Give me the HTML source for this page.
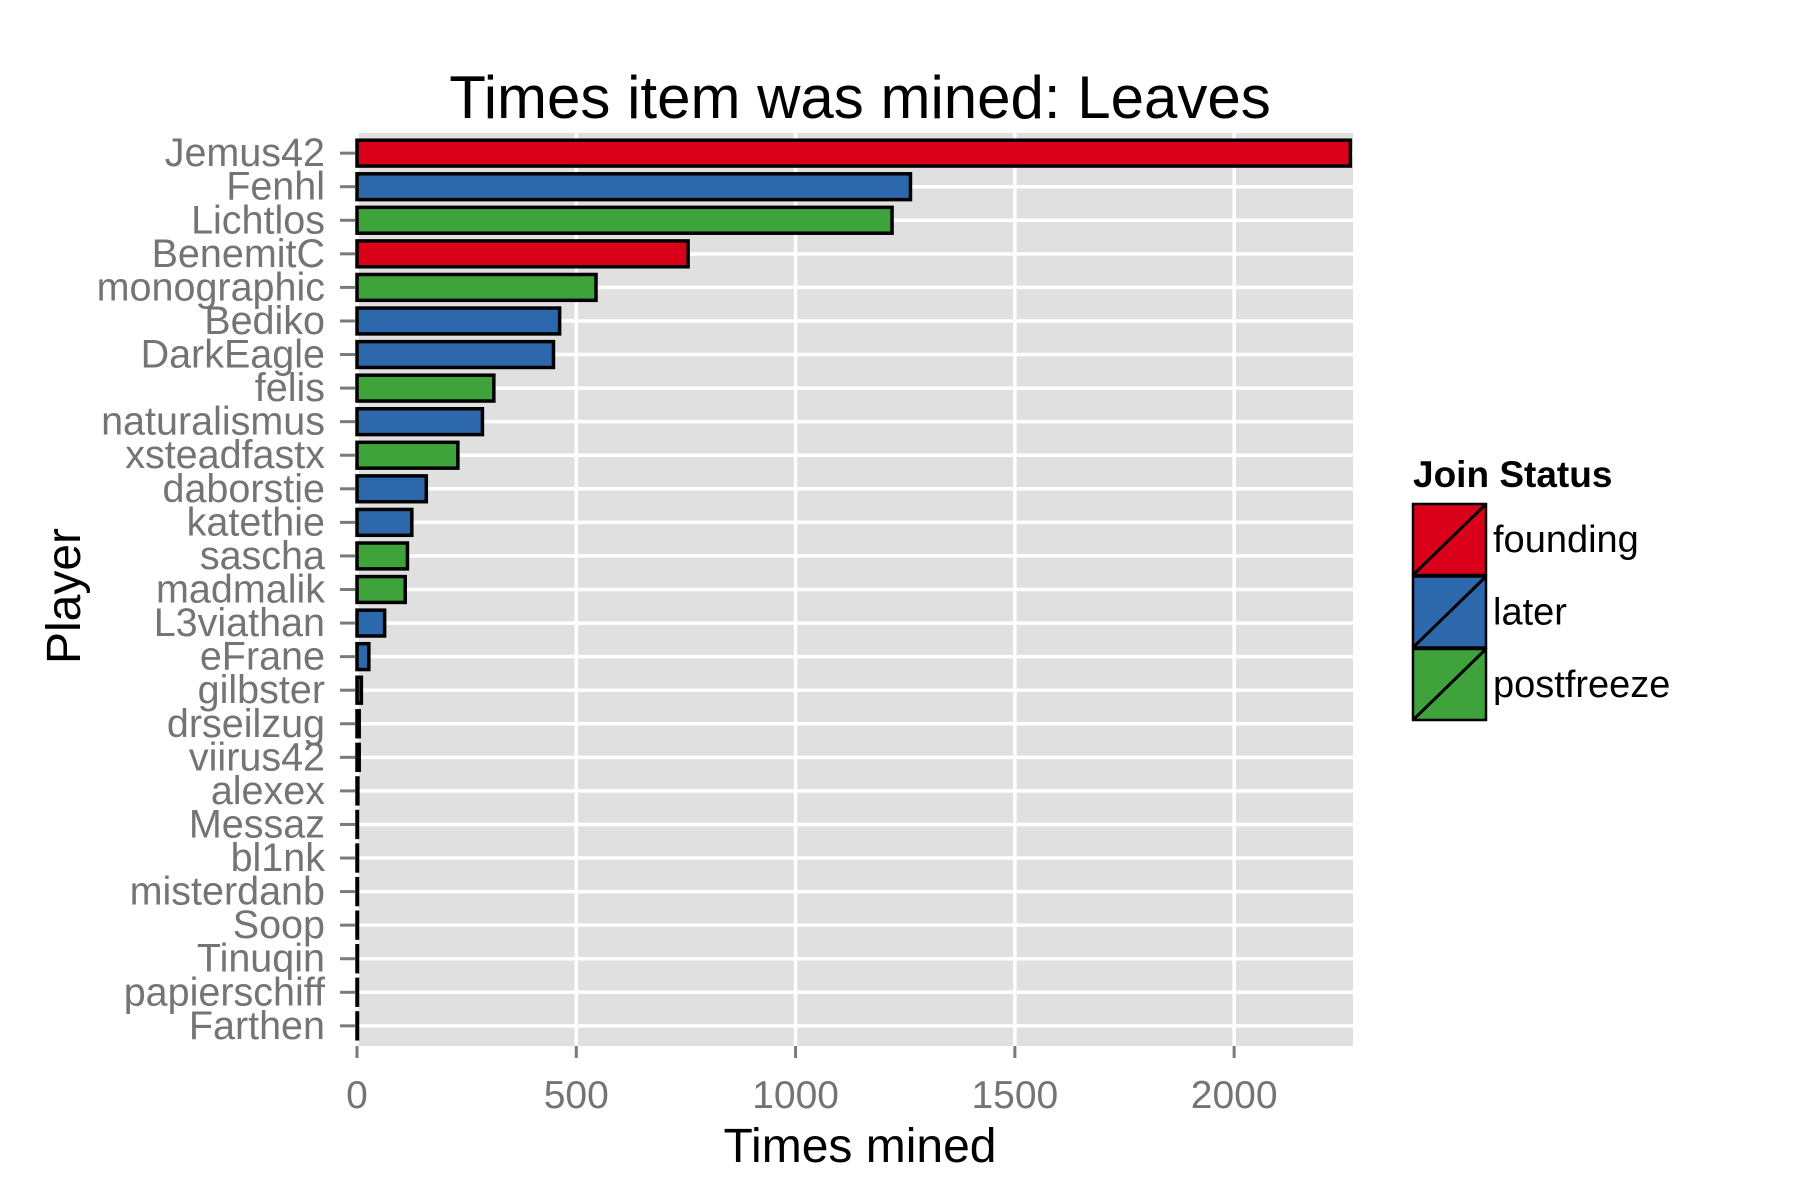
<!DOCTYPE html>
<html><head><meta charset="utf-8"><style>body{margin:0;background:#fff}svg{display:block}</style></head>
<body>
<svg id="chart" width="1800" height="1200" xmlns="http://www.w3.org/2000/svg" font-family="Liberation Sans, Arial, sans-serif"></svg>
<script>
const players = ["Jemus42","Fenhl","Lichtlos","BenemitC","monographic","Bediko","DarkEagle","felis","naturalismus","xsteadfastx","daborstie","katethie","sascha","madmalik","L3viathan","eFrane","gilbster","drseilzug","viirus42","alexex","Messaz","bl1nk","misterdanb","Soop","Tinuqin","papierschiff","Farthen"];
const timesMined = [2265,1262,1220,755,545,462,448,312,286,230,158,125,115,110,63,27,10,5,5,2,1,1,1,1,1,1,1];
const joinStatus = ["founding","later","postfreeze","founding","postfreeze","later","later","postfreeze","later","postfreeze","later","later","postfreeze","postfreeze","later","later","later","later","later","later","later","later","later","later","later","later","later"];
const xTicks = [0,500,1000,1500,2000];
const statuses = ["founding","later","postfreeze"];
const colors = {founding:"#DA001A",later:"#2C68AB",postfreeze:"#3FA33B"};

const svg = document.getElementById('chart');
const NS = "http://www.w3.org/2000/svg";
function mk(tag, attrs, parent){const e=document.createElementNS(NS,tag);for(const k in attrs)e.setAttribute(k,attrs[k]);(parent||svg).appendChild(e);return e;}

const L=357,R=1353,T=133,B=1046;
const xMax=2271;
const x = v => L + v/xMax*(R-L);
const step=(B-T)/(players.length-1+1.2);
const y = i => T + (0.6+i)*step;

const panel=mk('rect',{x:L,y:T,width:R-L,height:B-T,fill:'#E0E0E0'});



xTicks.forEach(t=>{
  const g=mk('line',{x1:x(t),x2:x(t),y1:T,y2:B,stroke:'#fff','stroke-width':3.5});
  
  
  const tk=mk('line',{x1:x(t),x2:x(t),y1:B,y2:B+12,stroke:'#7a7a7a','stroke-width':3});
  
  
  const lb=mk('text',{x:x(t),y:1108,'text-anchor':'middle','font-size':39,fill:'#747474'});
  lb.textContent=t;
  
  
});

players.forEach((p,i)=>{
  const g=mk('line',{x1:L,x2:R,y1:y(i),y2:y(i),stroke:'#fff','stroke-width':3.5});
  
  
});

players.forEach((p,i)=>{
  const h=step*0.77;
  const w=Math.max(x(timesMined[i])-x(0),0.5);
  const b=mk('rect',{x:x(0),y:y(i)-h/2,width:w,height:h,fill:colors[joinStatus[i]],stroke:'#000','stroke-width':3.5});
  
  
  const tk=mk('line',{x1:L-17,x2:L-2,y1:y(i),y2:y(i),stroke:'#7a7a7a','stroke-width':3});
  
  
  const lb=mk('text',{x:L-32,y:y(i)+13,'text-anchor':'end','font-size':39.5,fill:'#747474'});
  lb.textContent=p;
  
  
});

const title=mk('text',{x:860,y:118,'text-anchor':'middle','font-size':60,fill:'#000'});
title.textContent='Times item was mined: Leaves';



const xt=mk('text',{x:860,y:1162,'text-anchor':'middle','font-size':48,fill:'#000'});
xt.textContent='Times mined';



const yt=mk('text',{x:0,y:0,'text-anchor':'middle','font-size':48,fill:'#000',transform:'translate(80,596) rotate(-90)'});
yt.textContent='Player';



const lt=mk('text',{x:1413,y:487,'font-size':37,'font-weight':'bold',fill:'#000'});
lt.textContent='Join Status';



statuses.forEach((s,k)=>{
  const ky=504+k*72.5;
  const g=mk('g',{});
  
  
  mk('rect',{x:1413,y:ky,width:73,height:71,fill:colors[s],stroke:'#000','stroke-width':2.5},g);
  mk('line',{x1:1413,y1:ky+71,x2:1486,y2:ky,stroke:'#000','stroke-width':3},g);
  const t=mk('text',{x:1493,y:ky+48,'font-size':38,fill:'#000'},g);
  t.textContent=s;
});
</script>
</body></html>
